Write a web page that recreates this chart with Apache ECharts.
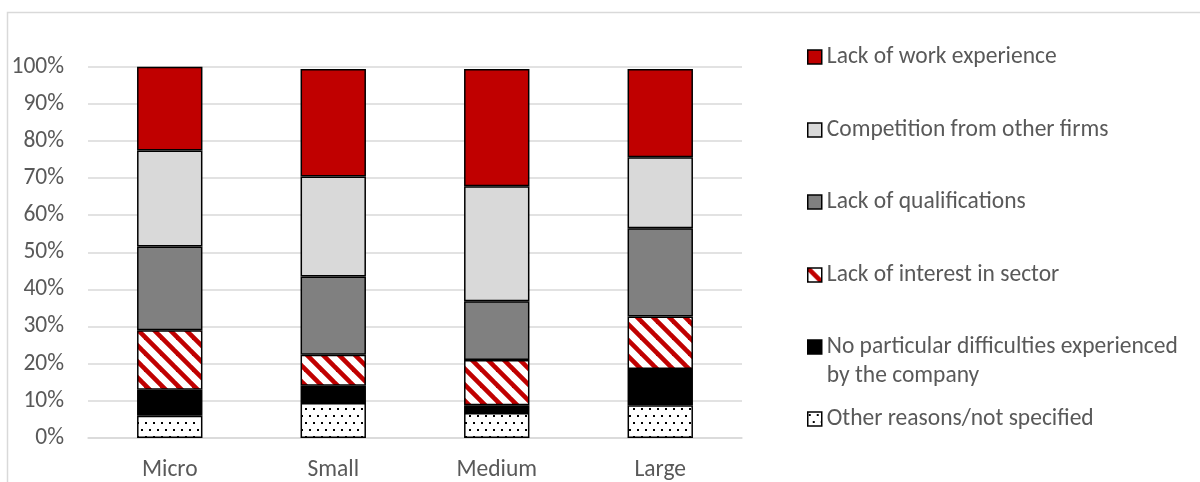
<!DOCTYPE html>
<html>
<head>
<meta charset="utf-8">
<style>
  html, body { margin: 0; padding: 0; background: #ffffff; }
  #chart { width: 1200px; height: 482px; }
</style>
<script src="https://cdn.jsdelivr.net/npm/echarts@6/dist/echarts.min.js"></script>
</head>
<body>
<div id="chart"></div>
<script>
// Company size groups
const categories = ['Micro', 'Small', 'Medium', 'Large'];

// Share of responses (%) per reason, bottom of the stack first
const otherReasons      = [6.0, 9.4, 6.7, 8.8];
const noDifficulties    = [7.0, 4.7, 2.1, 9.8];
const lackInterest      = [16.0, 8.3, 12.2, 14.1];
const lackQualification = [22.6, 21.1, 15.8, 23.8];
const competition       = [25.8, 26.9, 31.0, 19.1];
const lackExperience    = [22.6, 29.0, 31.6, 23.8];

const seriesNames = [
  'Other reasons/not specified',
  'No particular difficulties experienced\nby the company',
  'Lack of interest in sector',
  'Lack of qualifications',
  'Competition from other firms',
  'Lack of work experience'
];

const yTicks = [0, 10, 20, 30, 40, 50, 60, 70, 80, 90, 100];

// Fill patterns
function stripeTile() {
  const p = 16;
  const c = document.createElement('canvas');
  c.width = p; c.height = p;
  const g = c.getContext('2d');
  g.fillStyle = '#ffffff';
  g.fillRect(0, 0, p, p);
  g.strokeStyle = '#c00000';
  g.lineWidth = 4.6;
  for (let k = -1; k <= 1; k++) {
    g.beginPath();
    g.moveTo(k * p - 2, -2);
    g.lineTo(k * p + p + 2, p + 2);
    g.stroke();
  }
  return { image: c, repeat: 'repeat' };
}
function dotTile() {
  const w = 8, h = 14;
  const c = document.createElement('canvas');
  c.width = w; c.height = h;
  const g = c.getContext('2d');
  g.fillStyle = '#ffffff';
  g.fillRect(0, 0, w, h);
  g.fillStyle = '#000000';
  g.fillRect(1, 2, 2, 2);
  g.fillRect(5, 9, 2, 2);
  return { image: c, repeat: 'repeat' };
}

const fills = [dotTile(), '#000000', stripeTile(), '#808080', '#d9d9d9', '#c00000'];
const values = [otherReasons, noDifficulties, lackInterest, lackQualification, competition, lackExperience];

const FONT = 'Carlito, Lato, "Liberation Sans", sans-serif';
const TEXT = '#595959';
const FS = 23.5;
const LH = 29;

const series = seriesNames.map((name, i) => ({
  name: name,
  type: 'bar',
  stack: 'total',
  barWidth: '40%',
  data: values[i],
  itemStyle: { color: fills[i], borderColor: '#000000', borderWidth: 1.5 }
}));

// One legend block per entry, listed top to bottom.
// A two-line entry gets a blank leading line so its marker sits beside the first line.
const legendCenters = [57, 130, 202, 275, 347, 419];
const legendOrder = [5, 4, 3, 2, 1, 0];
const legends = legendOrder.map((si, k) => {
  const twoLine = seriesNames[si].indexOf('\n') >= 0;
  return {
    left: 807,
    top: twoLine ? legendCenters[k] - LH * 1.5 : legendCenters[k] - LH / 2,
    padding: 0,
    orient: 'vertical',
    icon: 'rect',
    itemWidth: 14,
    itemHeight: 14,
    itemGap: 6,
    selectedMode: false,
    data: [seriesNames[si]],
    formatter: twoLine ? (n) => '\n' + n : (n) => n,
    itemStyle: { borderColor: '#000000', borderWidth: 1.5 },
    textStyle: { fontFamily: FONT, fontSize: FS, color: TEXT, lineHeight: LH }
  };
});

const chart = echarts.init(document.getElementById('chart'), null, { renderer: 'canvas' });
chart.setOption({
  animation: false,
  backgroundColor: '#ffffff',
  graphic: [{
    type: 'rect',
    shape: { x: 7.5, y: 12.5, width: 1400, height: 700 },
    style: { fill: 'none', stroke: '#d9d9d9', lineWidth: 1.5 },
    silent: true
  }],
  grid: { left: 88, right: 458, top: 66.7, bottom: 43.7, containLabel: false },
  legend: legends,
  xAxis: {
    type: 'category',
    data: categories,
    axisTick: { show: false },
    axisLine: { lineStyle: { color: '#d9d9d9', width: 1.5 } },
    axisLabel: { color: TEXT, fontFamily: FONT, fontSize: FS, margin: 20 }
  },
  yAxis: {
    type: 'value',
    min: yTicks[0],
    max: yTicks[yTicks.length - 1],
    interval: 10,
    axisLine: { show: false },
    axisTick: { show: false },
    splitLine: { lineStyle: { color: '#d9d9d9', width: 1.5 } },
    axisLabel: { color: TEXT, fontFamily: FONT, fontSize: FS, margin: 24, formatter: '{value}%' }
  },
  series: series
});
</script>
</body>
</html>
